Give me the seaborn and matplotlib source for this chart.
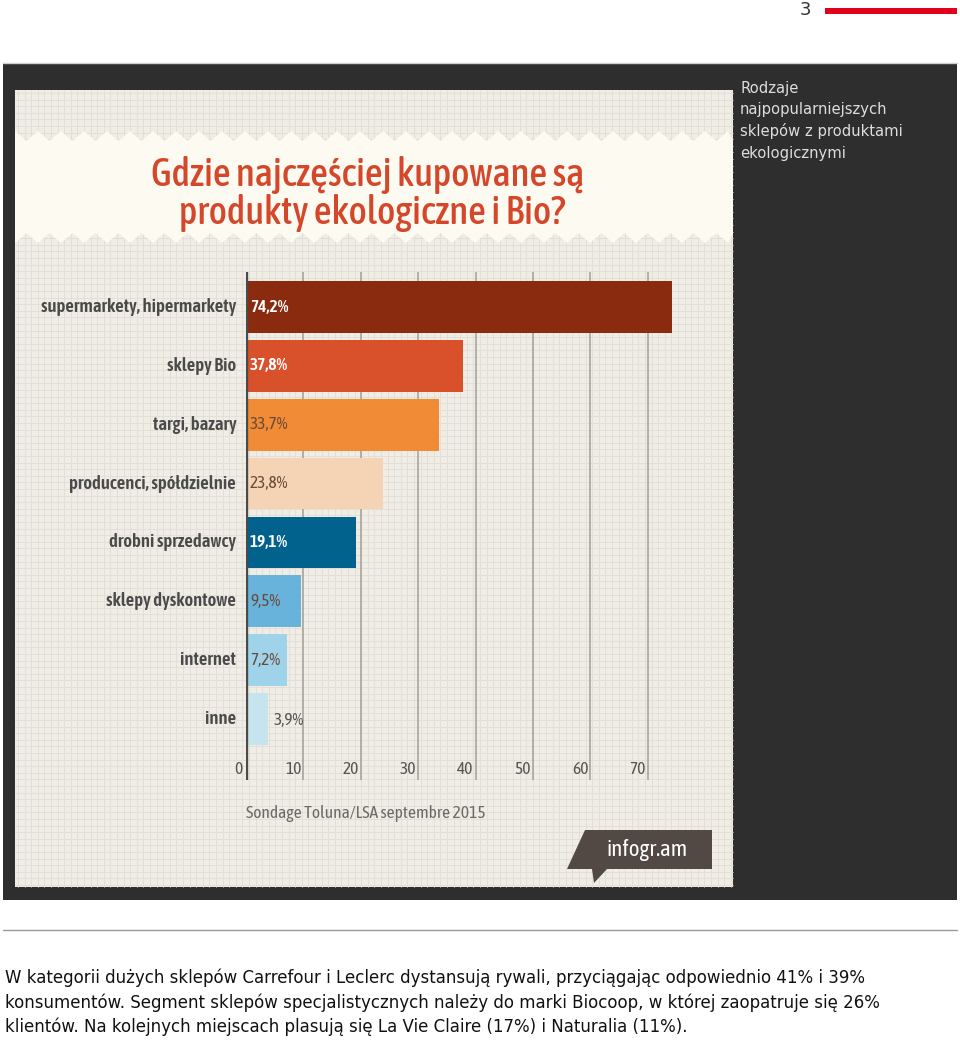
import numpy as np
import pandas as pd
import matplotlib
matplotlib.use("Agg")
import matplotlib.pyplot as plt
from matplotlib.patches import Rectangle, Polygon
import seaborn as sns

# ---------------- data ----------------
categories = ["supermarkety, hipermarkety", "sklepy Bio", "targi, bazary",
              "producenci, spółdzielnie", "drobni sprzedawcy", "sklepy dyskontowe",
              "internet", "inne"]
values = [74.2, 37.8, 33.7, 23.8, 19.1, 9.5, 7.2, 3.9]
value_labels = ["74,2%", "37,8%", "33,7%", "23,8%", "19,1%", "9,5%", "7,2%", "3,9%"]
bar_colors = ["#8a2b0f", "#d9512b", "#f18b36", "#f4d4b4", "#02628e",
              "#68b3dc", "#9ed3ea", "#c6e4ee"]
label_white = [True, True, False, False, True, False, False, False]
x_ticks = [0, 10, 20, 30, 40, 50, 60, 70]

title_lines = ["Gdzie najczęściej kupowane są", "produkty ekologiczne i Bio?"]
source_text = "Sondage Toluna/LSA septembre 2015"
caption_lines = ["Rodzaje", "najpopularniejszych", "sklepów z produktami", "ekologicznymi"]
body_lines = [
    "W kategorii dużych sklepów Carrefour i Leclerc dystansują rywali, przyciągając odpowiednio 41% i 39%",
    "konsumentów. Segment sklepów specjalistycznych należy do marki Biocoop, w której zaopatruje się 26%",
    "klientów. Na kolejnych miejscach plasują się La Vie Claire (17%) i Naturalia (11%).",
]

# ---------------- fonts ----------------
sns.set_theme(style="white")
plt.rcParams["font.family"] = ["DejaVu Sans"]

COND = ["Asap Condensed", "Archivo Narrow", "DejaVu Sans"]
NARROW = dict(family=COND, fontweight=400)
NARROW_B = dict(family=COND, fontweight=600)
TITLE_F = dict(family=COND, fontweight=500)

W, H = 960, 1041
fig = plt.figure(figsize=(W / 100, H / 100), dpi=100)
fig.patch.set_facecolor("white")

bg = fig.add_axes([0, 0, 1, 1])
bg.set_xlim(0, W)
bg.set_ylim(H, 0)
bg.axis("off")

# page number + red bar
bg.text(805, 10, "3", fontsize=13, color="#333333", ha="center", va="center")
bg.add_patch(Rectangle((825, 7.5), 132, 6, color="#e2001a", lw=0))

# dark box
bg.add_patch(Rectangle((3, 63), 954, 837, color="#2e2e2e", lw=0))
bg.plot([3, 957], [62.5, 62.5], color="#cfcfcf", lw=1)

# infographic panel with fine grid pattern
px0, px1, py0, py1 = 15, 733, 90, 887
bg.add_patch(Rectangle((px0, py0), px1 - px0, py1 - py0, color="#f0ede6", lw=0))
gx = np.arange(px0 + 3, px1, 6.6)
gy = np.arange(py0 + 3, py1, 6.6)
bg.vlines(gx, py0, py1, color="#e3dfd7", lw=0.7, zorder=1.5)
bg.hlines(gy, px0, px1, color="#e3dfd7", lw=0.7, zorder=1.5)

# cream title band with zigzag edges
step = 11.5
xs = np.arange(px0, px1 + step, step)
xs[-1] = px1
top = [(x, 131 if i % 2 == 0 else 141) for i, x in enumerate(xs)]
bot = [(x, 243 if i % 2 == 0 else 233) for i, x in enumerate(xs)][::-1]
bg.add_patch(Polygon(top + bot, closed=True, color="#fdfaf2", lw=0, zorder=2))

bg.text(368, 175, title_lines[0], fontsize=28, color="#d4472a", ha="center", va="center",
        zorder=3, **TITLE_F)
bg.text(372, 213, title_lines[1], fontsize=28, color="#d4472a", ha="center", va="center",
        zorder=3, **TITLE_F)

# right caption
for i, line in enumerate(caption_lines):
    bg.text(740, 88 + i * 21.7, line, fontsize=10.6, color="#dedede", ha="left", va="center")

# source
bg.text(246, 814, source_text, fontsize=12.6, color="#6a6a6a", ha="left", va="center",
        zorder=3, **NARROW)

# infogr.am logo
bg.add_patch(Polygon([(585, 830), (712, 830), (712, 869), (607, 869), (594, 883),
                      (592, 869), (567, 869)], closed=True, color="#524844", lw=0, zorder=3))
bg.text(647, 850, "infogr.am", fontsize=16.5, color="white", ha="center", va="center",
        zorder=4, **NARROW)

# separator line + body text
bg.plot([3, 957], [929.5, 929.5], color="#9a9a9a", lw=1)
for i, line in enumerate(body_lines):
    bg.text(5, 978 + i * 24.5, line, fontsize=12, color="#111111", ha="left", va="center")

# ---------------- chart axes ----------------
ax_l, ax_r, ax_t, ax_b = 246, 730, 272, 780
ax = fig.add_axes([ax_l / W, 1 - ax_b / H, (ax_r - ax_l) / W, (ax_b - ax_t) / H])
ax.patch.set_alpha(0)

df = pd.DataFrame({"kategoria": categories, "wartosc": values})
sns.barplot(data=df, y="kategoria", x="wartosc", hue="kategoria",
            palette=bar_colors, legend=False, width=0.88, saturation=1,
            linewidth=0, ax=ax, zorder=3)

xmax = (ax_r - ax_l) / 5.74
ax.set_xlim(0, xmax)
ax.set_ylim(8.036, -0.595)
for t in x_ticks[1:]:
    ax.axvline(t, color="#a39f97", lw=1.1, zorder=1)
ax.axvline(0, color="#4a4a4a", lw=2.4, zorder=4)

for s in ax.spines.values():
    s.set_visible(False)
ax.set_xticks([])
ax.set_yticks([])
ax.set_xlabel("")
ax.set_ylabel("")

# tick labels inside plot area
for t in x_ticks:
    ax.text(t - 0.35 if t > 0 else -0.6, 7.85, str(t), fontsize=12.5, color="#555555",
            ha="right", va="center", clip_on=False, **NARROW)

# category labels + value labels
for i, (cat, v, lab, wh) in enumerate(zip(categories, values, value_labels, label_white)):
    ax.text(-1.7, i, cat, fontsize=13.4, color="#4a4a4a", ha="right", va="center",
            clip_on=False, **NARROW_B)
    if v < 5:
        ax.text(v + 0.9, i + 0.02, lab, fontsize=12.5, color="#555555", ha="left",
                va="center", zorder=5, **NARROW)
    else:
        style = NARROW_B if wh else NARROW
        ax.text(0.7, i, lab, fontsize=12.5, color="white" if wh else "#6b4a3a",
                ha="left", va="center", zorder=5, **style)

fig.savefig("out.png", dpi=100)
